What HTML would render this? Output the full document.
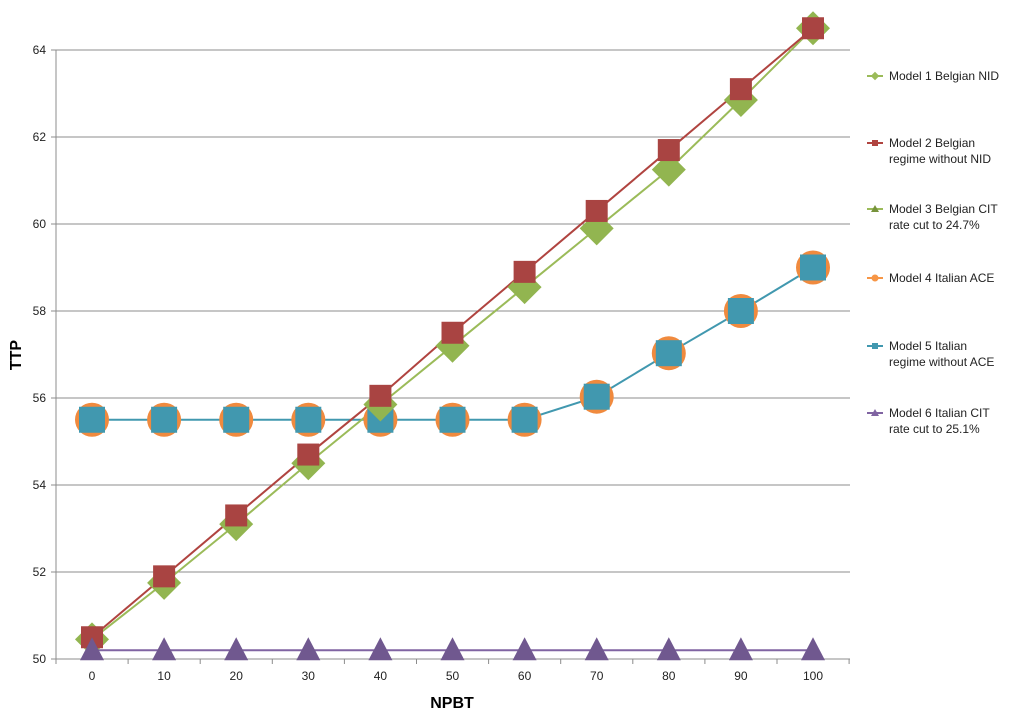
<!DOCTYPE html>
<html><head><meta charset="utf-8"><style>body{margin:0;background:#fff}svg{display:block;font-family:"Liberation Sans",Arial,sans-serif}</style></head><body>
<svg width="1024" height="717" xmlns="http://www.w3.org/2000/svg">
<g stroke="#8c8c8c" stroke-width="1">
<line x1="56" y1="50" x2="850" y2="50"/><line x1="56" y1="137" x2="850" y2="137"/><line x1="56" y1="224" x2="850" y2="224"/><line x1="56" y1="311" x2="850" y2="311"/><line x1="56" y1="398" x2="850" y2="398"/><line x1="56" y1="485" x2="850" y2="485"/><line x1="56" y1="572" x2="850" y2="572"/>
<line x1="56" y1="50" x2="56" y2="659"/><line x1="51" y1="659" x2="850" y2="659"/>
<line x1="51" y1="50" x2="56" y2="50"/><line x1="51" y1="137" x2="56" y2="137"/><line x1="51" y1="224" x2="56" y2="224"/><line x1="51" y1="311" x2="56" y2="311"/><line x1="51" y1="398" x2="56" y2="398"/><line x1="51" y1="485" x2="56" y2="485"/><line x1="51" y1="572" x2="56" y2="572"/>
</g>
<g stroke="#8c8c8c" id="xt"></g>
<g font-size="12" fill="#222" text-anchor="end">
<text x="46" y="54">64</text><text x="46" y="141">62</text><text x="46" y="228">60</text><text x="46" y="315">58</text><text x="46" y="402">56</text><text x="46" y="489">54</text><text x="46" y="576">52</text><text x="46" y="663">50</text>
</g>
<g font-size="12" fill="#222" text-anchor="middle" id="xl"></g>
<text x="452" y="708" font-size="16" font-weight="bold" text-anchor="middle">NPBT</text>
<text transform="translate(21,355) rotate(-90)" font-size="16" font-weight="bold" text-anchor="middle">TTP</text>
<g id="series"></g>
<g font-size="12" fill="#222">
<line x1="867" y1="76" x2="883" y2="76" stroke="#9bbb59" stroke-width="2"/><rect x="872" y="73" width="6" height="6" fill="#9bbb59" transform="rotate(45 875 76)"/>
<text x="889" y="80">Model 1 Belgian NID</text>
<line x1="867" y1="143" x2="883" y2="143" stroke="#b04440" stroke-width="2"/><rect x="872" y="140" width="6" height="6" fill="#b04440"/>
<text x="889" y="147">Model 2 Belgian</text><text x="889" y="163">regime without NID</text>
<line x1="867" y1="209" x2="883" y2="209" stroke="#9bbb59" stroke-width="2"/><polygon points="875,205 879,212 871,212" fill="#77933c"/>
<text x="889" y="213">Model 3 Belgian CIT</text><text x="889" y="229">rate cut to 24.7%</text>
<line x1="867" y1="278" x2="883" y2="278" stroke="#f79646" stroke-width="2"/><circle cx="875" cy="278" r="3.5" fill="#f79646"/>
<text x="889" y="282">Model 4 Italian ACE</text>
<line x1="867" y1="346" x2="883" y2="346" stroke="#4198af" stroke-width="2"/><rect x="872" y="343" width="6" height="6" fill="#4198af"/>
<text x="889" y="350">Model 5 Italian</text><text x="889" y="366">regime without ACE</text>
<line x1="867" y1="413" x2="883" y2="413" stroke="#8064a2" stroke-width="2"/><polygon points="875,409 879,416 871,416" fill="#8064a2"/>
<text x="889" y="417">Model 6 Italian CIT</text><text x="889" y="433">rate cut to 25.1%</text>
</g>
<script>
var ns="http://www.w3.org/2000/svg";
function X(i){return 92+i*72.1}function Y(v){return 659-(v-50)*43.5}
function el(p,t,a){var e=document.createElementNS(ns,t);for(var k in a)e.setAttribute(k,a[k]);p.appendChild(e);return e}
var xt=document.getElementById("xt"),xl=document.getElementById("xl"),s=document.getElementById("series");
for(var i=0;i<=11;i++){var x=56+i*72.1;el(xt,"line",{x1:x,y1:659,x2:x,y2:664});}
for(var i=0;i<=10;i++){el(xl,"text",{x:X(i),y:680}).textContent=i*10;}
var m1=[50.45,51.75,53.1,54.5,55.85,57.2,58.55,59.9,61.25,62.85,64.5];
var m2=[50.5,51.9,53.3,54.7,56.05,57.5,58.9,60.3,61.7,63.1,64.5];
var m4=[55.5,55.5,55.5,55.5,55.5,55.5,55.5,56.03,57.03,58.0,59.0];
function pts(a){return a.map(function(v,i){return X(i)+","+Y(v)}).join(" ")}
el(s,"polyline",{points:pts([50.2,50.2,50.2,50.2,50.2,50.2,50.2,50.2,50.2,50.2,50.2]),fill:"none",stroke:"#8064a2","stroke-width":2});
el(s,"polyline",{points:pts(m4),fill:"none",stroke:"#4198af","stroke-width":2});
el(s,"polyline",{points:pts(m1),fill:"none",stroke:"#9bbb59","stroke-width":2});
el(s,"polyline",{points:pts(m2),fill:"none",stroke:"#b04440","stroke-width":2});
m4.forEach(function(v,i){el(s,"circle",{cx:X(i),cy:Y(v),r:17,fill:"#f08a3e"});});
m4.forEach(function(v,i){el(s,"rect",{x:X(i)-13,y:Y(v)-13,width:26,height:26,fill:"#4198af"});});
m1.forEach(function(v,i){var x=X(i),y=Y(v);el(s,"polygon",{points:(x)+","+(y-17)+" "+(x+17)+","+y+" "+x+","+(y+17)+" "+(x-17)+","+y,fill:"#92b550"});});
m2.forEach(function(v,i){el(s,"rect",{x:X(i)-11,y:Y(v)-11,width:22,height:22,fill:"#a94442"});});
for(var i=0;i<=10;i++){var x=X(i),y=Y(50.2);el(s,"polygon",{points:x+","+(y-13)+" "+(x+12)+","+(y+10)+" "+(x-12)+","+(y+10),fill:"#70588f"});}
</script>
</svg>
</body></html>
